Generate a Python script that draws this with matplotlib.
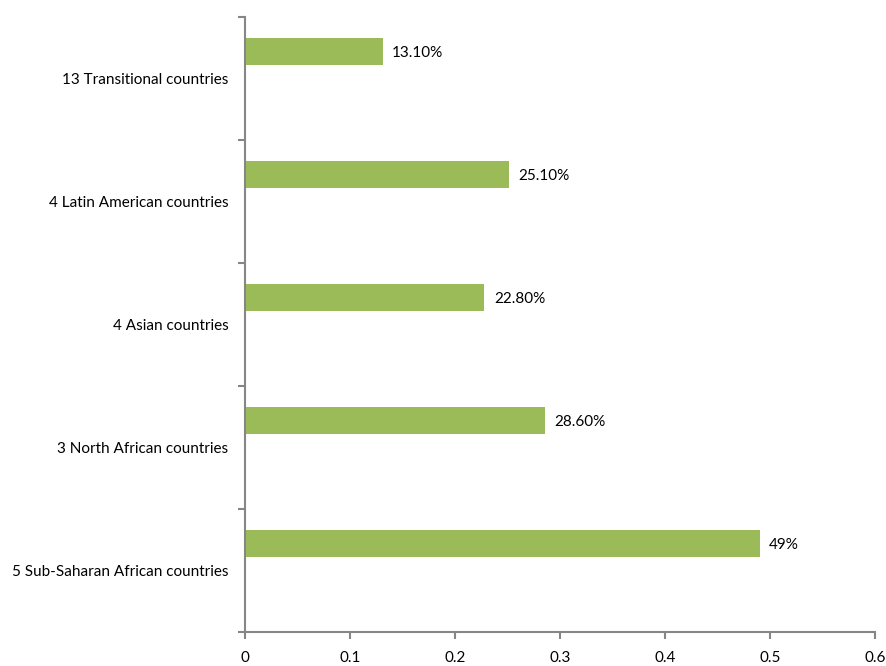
import matplotlib
matplotlib.use("Agg")
from matplotlib import pyplot as plt
import numpy as np

# dados (de baixo para cima)
regioes = ['5 Sub-Saharan African countries', '3 North African countries',
           '4 Asian countries', '4 Latin American countries',
           '13 Transitional countries']
valores = [0.49, 0.286, 0.228, 0.251, 0.131]
rotulos = ['49%', '28.60%', '22.80%', '25.10%', '13.10%']
xticks = [0, 0.1, 0.2, 0.3, 0.4, 0.5, 0.6]

plt.rcParams['font.family'] = ['Lato', 'DejaVu Sans']
cinza = '#868686'

fig = plt.figure(figsize=(8.86, 6.66), dpi=100)
ax = fig.add_axes([245/886, 1 - 632/666, 630/886, 615/666])

y = np.arange(len(regioes))
ax.barh(y + 0.22, valores, height=0.22, color='#9bbb59')

for yi, v, r in zip(y, valores, rotulos):
    ax.text(v + 0.009, yi + 0.21, r, va='center', ha='left', fontsize=11)

ax.set_xlim(0, 0.6)
ax.set_ylim(-0.5, len(regioes) - 0.5)
ax.set_xticks(xticks)
ax.set_xticklabels([str(t) for t in xticks], fontsize=11)
ax.set_yticks(y)
ax.set_yticklabels(regioes, fontsize=11)
ax.set_yticks(np.arange(len(regioes) + 1) - 0.5, minor=True)

ax.tick_params(axis='y', which='major', length=0, pad=12)
ax.tick_params(axis='y', which='minor', length=5, color=cinza, width=1.5)
ax.tick_params(axis='x', length=5, color=cinza, width=1.5, pad=9)

for s in ['top', 'right']:
    ax.spines[s].set_visible(False)
for s in ['left', 'bottom']:
    ax.spines[s].set_color(cinza)
    ax.spines[s].set_linewidth(1.5)

fig.savefig('out.png', dpi=100)
